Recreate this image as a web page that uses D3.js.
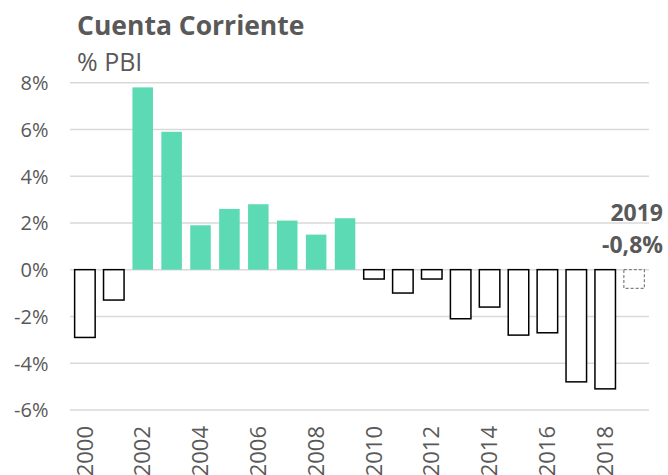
<!DOCTYPE html>
<html><head><meta charset="utf-8">
<script src="https://cdn.jsdelivr.net/npm/d3@7"></script>
<style>body{margin:0;background:#fff}svg{display:block}text{font-family:"Open Sans",sans-serif}</style>
</head><body><svg id="c" width="668" height="475"></svg>
<script>
const years = [2000,2001,2002,2003,2004,2005,2006,2007,2008,2009,2010,2011,2012,2013,2014,2015,2016,2017,2018,2019];
const values = [-2.9,-1.3,7.8,5.9,1.9,2.6,2.8,2.1,1.5,2.2,-0.4,-1.0,-0.4,-2.1,-1.6,-2.8,-2.7,-4.8,-5.1,-0.8];
const yTicks = [-6,-4,-2,0,2,4,6,8];
const xLabels = [2000,2002,2004,2006,2008,2010,2012,2014,2016,2018];
const title = "Cuenta Corriente", subtitle = "% PBI";
const annoYear = "2019", annoValue = "-0,8%";

const svg = d3.select("#c");
const x = d3.scaleBand().domain(years).range([70,649]).paddingInner(0.29).paddingOuter(0.16);
const y = d3.scaleLinear().domain([-6,8]).range([409.9,82.7]);

svg.append("g").selectAll("line").data(yTicks).join("line")
  .attr("x1",70).attr("x2",649).attr("y1",d=>y(d)).attr("y2",d=>y(d))
  .attr("stroke","#d9d9d9").attr("stroke-width",1.5);

const yAxis = svg.append("g").attr("transform","translate(48.5,0)")
  .call(d3.axisLeft(y).tickValues(yTicks).tickSize(0).tickPadding(0).tickFormat(d=>d+"%"));
yAxis.select(".domain").remove();
yAxis.selectAll("text").attr("font-size",20).attr("fill","#595959").attr("font-family","Open Sans").attr("dy","0.35em");

const data = years.map((yr,i)=>({yr,v:values[i]}));
svg.append("g").selectAll("rect").data(data).join("rect")
  .attr("x",d=>x(d.yr)).attr("width",x.bandwidth())
  .attr("y",d=>d.v>=0?y(d.v):y(0)).attr("height",d=>Math.abs(y(d.v)-y(0)))
  .attr("fill",d=>d.v>=0?"#5bdab4":"#fff")
  .attr("stroke",d=>d.v>=0?"none":(d.yr===2019?"#7f7f7f":"#000"))
  .attr("stroke-width",d=>d.yr===2019?1.2:1.5)
  .attr("stroke-dasharray",d=>d.yr===2019?"3,2":null);

const xAxis = svg.append("g").attr("transform","translate(0,425)")
  .call(d3.axisBottom(x).tickValues(xLabels).tickSize(0).tickPadding(0));
xAxis.select(".domain").remove();
xAxis.selectAll("text").attr("font-size",22).attr("fill","#595959").attr("font-family","Open Sans")
  .attr("transform","rotate(-90)").attr("text-anchor","end").attr("x",-1).attr("y",0).attr("dy","0.35em");

svg.append("text").attr("x",77).attr("y",35).attr("font-size",26.5).attr("font-weight","bold").attr("fill","#595959").text(title);
svg.append("text").attr("x",77).attr("y",71).attr("font-size",25).attr("fill","#595959").text(subtitle);
svg.append("text").attr("x",663).attr("y",221).attr("text-anchor","end").attr("font-size",23).attr("font-weight","bold").attr("fill","#595959").text(annoYear);
svg.append("text").attr("x",663).attr("y",253).attr("text-anchor","end").attr("font-size",23).attr("font-weight","bold").attr("fill","#595959").text(annoValue);
</script></body></html>
